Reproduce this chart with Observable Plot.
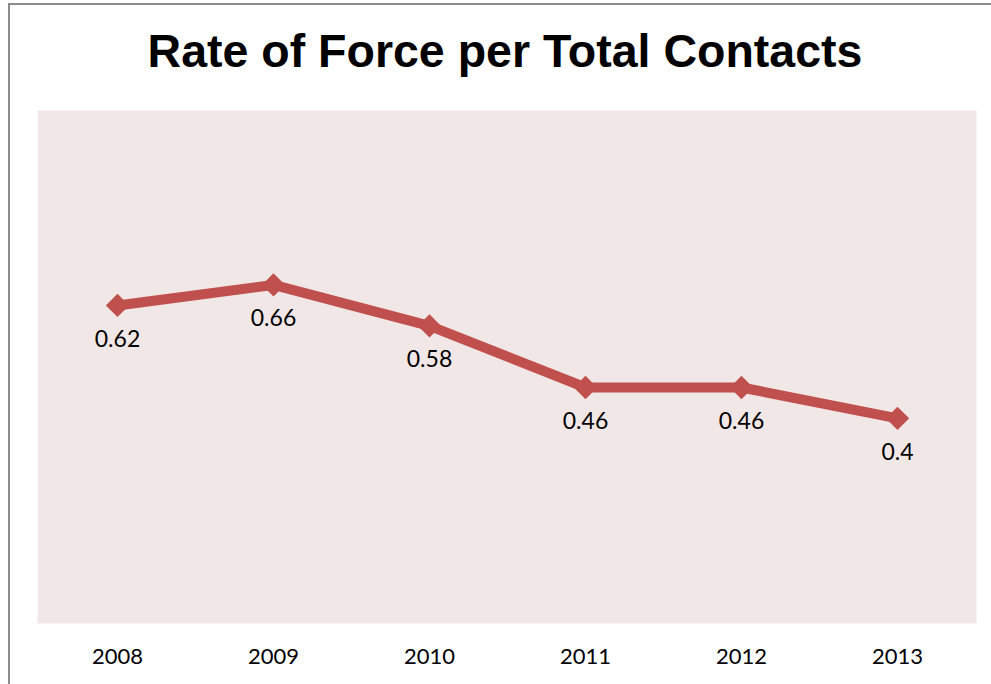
<!DOCTYPE html>
<html>
<head>
<meta charset="utf-8">
<script src="https://cdn.jsdelivr.net/npm/d3@7"></script>
<script src="https://cdn.jsdelivr.net/npm/@observablehq/plot@0.6"></script>
<style>
  body { margin: 0; background: #fff; }
  #wrap { position: relative; width: 991px; height: 684px; overflow: hidden; background: #fff; }
  #border { position: absolute; left: 8px; top: 3px; width: 1100px; height: 800px; border: 2px solid #8c8c8c; box-sizing: border-box; }
  #title { position: absolute; left: 0; top: 28px; width: 1010px; text-align: center; font-family: "Liberation Sans", Arial, sans-serif; font-weight: bold; font-size: 46.5px; line-height: 46px; color: #000; }
  #chart { position: absolute; left: 0; top: 100px; }
</style>
</head>
<body>
<div id="wrap">
  <div id="border"></div>
  <div id="title">Rate of Force per Total Contacts</div>
  <div id="chart"></div>
</div>
<script>
const years = ["2008", "2009", "2010", "2011", "2012", "2013"];
const rates = [0.62, 0.66, 0.58, 0.46, 0.46, 0.4];
const rateLabels = ["0.62", "0.66", "0.58", "0.46", "0.46", "0.4"];

const data = years.map((y, i) => ({year: y, rate: rates[i], label: rateLabels[i]}));
const red = "#C0504D";

const chart = Plot.plot({
  width: 991,
  height: 584,
  marginLeft: 37,
  marginRight: 15,
  marginTop: 10,
  marginBottom: 61,
  style: {fontFamily: "Lato, sans-serif", fontSize: "22px", color: "#000", background: "transparent"},
  x: {type: "point", domain: years, padding: 0.5, label: null},
  y: {domain: [0, 1], axis: null},
  marks: [
    Plot.frame({fill: "#F2E7E7", stroke: "none"}),
    Plot.axisX({tickSize: 0, tickPadding: 25, fontSize: 22, label: null, fill: "#000"}),
    Plot.line(data, {x: "year", y: "rate", stroke: red, strokeWidth: 10, strokeLinejoin: "round"}),
    Plot.dot(data, {x: "year", y: "rate", symbol: "diamond2", r: 10.5, fill: red, stroke: "none"}),
    Plot.text(data, {x: "year", y: "rate", text: "label", dy: 34, fontSize: 23, fill: "#000"})
  ]
});
document.getElementById("chart").appendChild(chart);
</script>
</body>
</html>
